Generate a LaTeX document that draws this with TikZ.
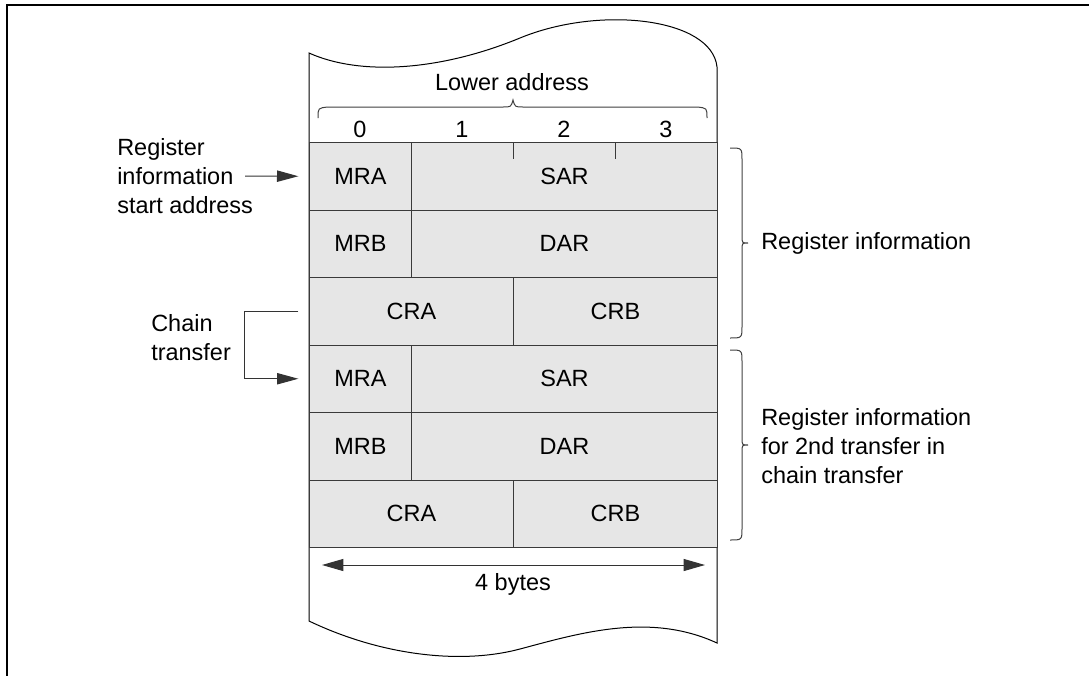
\documentclass[tikz,border=0pt]{standalone}
\usepackage{fontspec}
\setmainfont{Liberation Sans}
\usetikzlibrary{arrows.meta}
\definecolor{cellgray}{HTML}{E6E6E6}
\definecolor{linegray}{HTML}{3A3A3A}
\tikzset{
  cell/.style={draw=linegray, line width=0.75pt, fill=cellgray, inner sep=0pt,
    minimum height=50.625pt, anchor=north west},
  wa/.style={minimum width=76.5pt},
  wb/.style={minimum width=153pt},
  wc/.style={minimum width=229.5pt},
  arr/.style={draw=black!80, line width=0.75pt, -{Triangle[length=16pt,width=8.5pt]}},
  bline/.style={draw=black!75, line width=0.75pt},
  lbl/.style={align=left, anchor=west, inner sep=0pt},
  txt/.style={inner sep=0pt}
}
\begin{document}
\begin{tikzpicture}[x=0.75pt,y=-0.75pt, font=\fontsize{17.6}{21.75}\selectfont]
\useasboundingbox (0,0) rectangle (1089,675);
% outer frame
\draw[line width=1.7pt] (7,680) -- (7,5) -- (1095,5);
% memory strip with wavy ends
\draw[fill=white, draw=black, line width=0.75pt]
  (309,621) -- (309,53)
  .. controls (360,76) and (440,71) .. (520,38)
  .. controls (600,5) and (712,18) .. (717,67)
  -- (717,643)
  .. controls (650,612) and (580,633) .. (520,649)
  .. controls (460,665) and (380,655) .. (309,621) -- cycle;
% header
\node[txt] (lowaddr) at (512,82) {Lower address};
\draw[bline] (318,118) .. controls (318,108) .. (328,107) -- (503,107)
  .. controls (511,107) .. (513,100) .. controls (515,107) .. (523,107)
  -- (697,107) .. controls (707,108) .. (707,118);
\node[txt] (n0) at (360,129) {0};
\node[txt] (n1) at (462,129) {1};
\node[txt] (n2) at (564,129) {2};
\node[txt] (n3) at (666,129) {3};
% first register information
\node[cell, wa] (mra1) at (309,142) {MRA};
\node[cell, wc] (sar1) at (411,142) {SAR};
\node[cell, wa] (mrb1) at (309,209.5) {MRB};
\node[cell, wc] (dar1) at (411,209.5) {DAR};
\node[cell, wb] (cra1) at (309,277) {CRA};
\node[cell, wb] (crb1) at (513,277) {CRB};
% second register information
\node[cell, wa] (mra2) at (309,344.5) {MRA};
\node[cell, wc] (sar2) at (411,344.5) {SAR};
\node[cell, wa] (mrb2) at (309,412) {MRB};
\node[cell, wc] (dar2) at (411,412) {DAR};
\node[cell, wb] (cra2) at (309,479.5) {CRA};
\node[cell, wb] (crb2) at (513,479.5) {CRB};
% ticks on SAR top
\draw[draw=linegray, line width=0.75pt] ([xshift=76.5pt]sar1.north west) -- ++(0,17);
\draw[draw=linegray, line width=0.75pt] ([xshift=153pt]sar1.north west) -- ++(0,17);
% left labels
\node[lbl] (startlbl) at (117,176) {Register\\information\\start address};
\coordinate (a1) at (245,176);
\draw[arr] (a1) -- ([xshift=-8pt]mra1.west);
\node[lbl] (chainlbl) at (151,338) {Chain\\transfer};
\draw[arr] ([xshift=-8pt]cra1.west) -- ++(-40.5pt,0) |- ([xshift=-8pt]mra2.west);
% right braces
\draw[bline] (730,148) .. controls (742,148) .. (742,160) -- (742,236)
  .. controls (742,243) .. (748,243) .. controls (742,243) .. (742,250)
  -- (742,326) .. controls (742,338) .. (730,338);
\node[lbl] (reginfo1) at (761,243) {Register information};
\draw[bline] (730,350) .. controls (742,350) .. (742,362) -- (742,438)
  .. controls (742,445) .. (748,445) .. controls (742,445) .. (742,452)
  -- (742,528) .. controls (742,540) .. (730,540);
\node[lbl] (reginfo2) at (761,446) {Register information\\for 2nd transfer in\\chain transfer};
% 4 bytes
\coordinate (bl) at (322,565);
\coordinate (br) at (705,565);
\draw[arr, {Triangle[length=16pt,width=9pt]}-{Triangle[length=16pt,width=9pt]}] (bl) -- (br);
\node[txt] (bytes) at (513,584) {4 bytes};
\end{tikzpicture}
\end{document}
